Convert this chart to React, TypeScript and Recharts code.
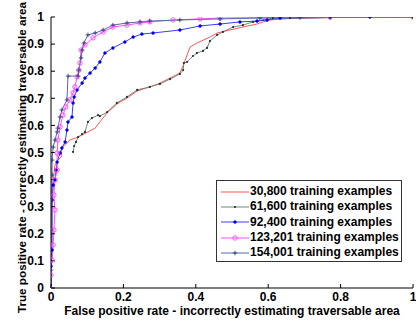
import React from 'react';
import { LineChart, Line, XAxis, YAxis, Legend, Label } from 'recharts';

// ROC curve points: [false positive rate, true positive rate]
const series30800: [number, number][] = [
  [0, 0], [0.001, 0.14], [0.003, 0.288], [0.006, 0.399], [0.011, 0.454], [0.019, 0.472],
  [0.028, 0.483], [0.03, 0.517], [0.044, 0.535], [0.052, 0.546], [0.075, 0.557], [0.102, 0.576],
  [0.122, 0.59], [0.135, 0.613], [0.155, 0.646], [0.182, 0.679], [0.21, 0.701], [0.238, 0.727],
  [0.273, 0.742], [0.301, 0.756], [0.329, 0.775], [0.356, 0.793], [0.367, 0.827], [0.373, 0.849],
  [0.384, 0.889], [0.403, 0.904], [0.439, 0.926], [0.459, 0.941], [0.494, 0.952], [0.53, 0.963],
  [0.569, 0.974], [0.586, 0.982], [0.605, 0.989], [0.652, 0.994], [0.771, 0.998], [1, 1],
];

const series61600: [number, number][] = [
  [0.061, 0.502], [0.064, 0.524], [0.069, 0.539], [0.075, 0.557], [0.086, 0.568], [0.094, 0.576],
  [0.102, 0.613], [0.113, 0.627], [0.13, 0.638], [0.135, 0.634], [0.155, 0.649], [0.182, 0.683],
  [0.21, 0.705], [0.238, 0.731], [0.273, 0.742], [0.301, 0.753], [0.329, 0.771], [0.356, 0.79],
  [0.365, 0.804], [0.367, 0.83], [0.376, 0.834], [0.392, 0.856], [0.403, 0.867], [0.42, 0.875],
  [0.431, 0.886], [0.439, 0.911], [0.459, 0.934], [0.475, 0.945], [0.503, 0.963], [0.53, 0.97],
  [0.558, 0.982], [0.586, 0.989], [0.613, 0.996], [0.66, 0.996], [0.771, 0.998], [1, 1],
];

const series92400: [number, number][] = [
  [0, 0], [0, 0.08], [0.003, 0.14], [0.003, 0.325], [0.006, 0.38], [0.011, 0.399],
  [0.014, 0.435], [0.017, 0.465], [0.025, 0.498], [0.03, 0.517], [0.039, 0.539], [0.044, 0.583],
  [0.047, 0.613], [0.058, 0.631], [0.061, 0.683], [0.064, 0.705], [0.072, 0.731], [0.086, 0.756],
  [0.094, 0.775], [0.108, 0.793], [0.122, 0.812], [0.135, 0.834], [0.149, 0.867], [0.171, 0.886],
  [0.204, 0.908], [0.227, 0.926], [0.251, 0.937], [0.282, 0.941], [0.356, 0.952], [0.412, 0.967],
  [0.467, 0.974], [0.522, 0.982], [0.569, 0.985], [0.597, 0.989], [0.633, 0.996], [0.771, 0.998],
  [0.881, 1], [1, 1],
];

const series123201: [number, number][] = [
  [0, 0.048], [0.003, 0.103], [0.006, 0.159], [0.008, 0.214], [0.011, 0.288], [0.008, 0.343],
  [0.011, 0.399], [0.017, 0.435], [0.017, 0.498], [0.019, 0.546], [0.025, 0.594], [0.033, 0.638],
  [0.041, 0.668], [0.052, 0.694], [0.061, 0.72], [0.066, 0.742], [0.072, 0.779], [0.077, 0.804],
  [0.08, 0.83], [0.083, 0.878], [0.094, 0.897], [0.116, 0.923], [0.144, 0.945], [0.171, 0.963],
  [0.21, 0.97], [0.246, 0.978], [0.273, 0.982], [0.337, 0.989], [0.412, 0.993], [0.467, 0.996],
  [0.586, 0.998], [0.771, 1], [1, 1],
];

const series154001: [number, number][] = [
  [0, 0], [0, 0.066], [0, 0.214], [0.001, 0.325], [0.003, 0.417], [0.003, 0.472],
  [0.006, 0.52], [0.011, 0.546], [0.017, 0.576], [0.019, 0.59], [0.025, 0.631], [0.03, 0.657],
  [0.044, 0.694], [0.047, 0.782], [0.075, 0.782], [0.077, 0.804], [0.083, 0.849], [0.086, 0.878],
  [0.091, 0.904], [0.102, 0.934], [0.122, 0.941], [0.144, 0.952], [0.171, 0.97], [0.21, 0.978],
  [0.246, 0.982], [0.273, 0.985], [0.356, 0.989], [0.467, 0.993], [0.577, 0.996], [0.688, 0.998],
  [0.771, 1], [1, 1],
];

const seriesNames = [
  '30,800 training examples',
  '61,600 training examples',
  '92,400 training examples',
  '123,201 training examples',
  '154,001 training examples',
];

const xTicks = [0, 0.2, 0.4, 0.6, 0.8, 1];
const yTicks = [0, 0.1, 0.2, 0.3, 0.4, 0.5, 0.6, 0.7, 0.8, 0.9, 1];

const xLabel = 'False positive rate - incorrectly estimating traversable area';
const yLabel = 'True positive rate - correctly estimating traversable area';

const FONT = '"Liberation Sans", Arial, sans-serif';
const FS = 12;

type MarkerKind = 'none' | 'dot' | 'bigdot' | 'circle' | 'plus';

const styles: { color: string; marker: MarkerKind; markerColor: string }[] = [
  { color: '#ff5555', marker: 'none', markerColor: '#ff5555' },
  { color: '#6f8a7a', marker: 'dot', markerColor: '#1f3326' },
  { color: '#3c3cff', marker: 'bigdot', markerColor: '#0000ee' },
  { color: '#ff4cff', marker: 'circle', markerColor: '#ff44ff' },
  { color: '#5868a8', marker: 'plus', markerColor: '#2d3a78' },
];

const allSeries = [series30800, series61600, series92400, series123201, series154001];

const toData = (s: [number, number][]) => s.map(([x, y]) => ({ x, y }));

function renderMarker(kind: MarkerKind, color: string, cx: number, cy: number, key?: string | number) {
  switch (kind) {
    case 'dot':
      return <circle key={key} cx={cx} cy={cy} r={1.1} fill={color} stroke="none" />;
    case 'bigdot':
      return (
        <g key={key}>
          <circle cx={cx} cy={cy} r={1.5} fill={color} stroke="none" />
          <path d={`M${cx - 2},${cy}H${cx + 2}M${cx},${cy - 2}V${cy + 2}`} stroke={color} strokeWidth={0.7} />
        </g>
      );
    case 'circle':
      return <circle key={key} cx={cx} cy={cy} r={2.2} fill="none" stroke={color} strokeWidth={0.9} />;
    case 'plus':
      return (
        <path
          key={key}
          d={`M${cx - 2.3},${cy}H${cx + 2.3}M${cx},${cy - 2.3}V${cy + 2.3}`}
          stroke={color}
          strokeWidth={0.9}
          fill="none"
        />
      );
    default:
      return <g key={key} />;
  }
}

const makeDot = (kind: MarkerKind, color: string) => (props: any) => {
  const { cx, cy, index } = props;
  if (cx == null || cy == null) return <g key={`k${index}`} />;
  return renderMarker(kind, color, cx, cy, `k${index}`);
};

const LegendBox = () => (
  <div
    style={{
      width: 184,
      height: 77,
      border: '1px solid #333',
      background: '#fff',
      boxSizing: 'content-box',
      paddingTop: 3,
    }}
  >
    {seriesNames.map((name, i) => (
      <div key={name} style={{ display: 'flex', alignItems: 'center', height: 15.3 }}>
        <svg width={31} height={10} style={{ marginLeft: 2, flex: 'none' }}>
          <line x1={2} y1={5} x2={30} y2={5} stroke={styles[i].color} strokeWidth={1} />
          {renderMarker(styles[i].marker, styles[i].markerColor, 16, 5)}
        </svg>
        <span style={{ fontFamily: FONT, fontWeight: 'bold', fontSize: FS, color: '#000', whiteSpace: 'nowrap', lineHeight: '15px' }}>
          {name}
        </span>
      </div>
    ))}
  </div>
);

const fmt = (v: number) => (v === 0 ? '0' : v === 1 ? '1' : String(v));

export default function App() {
  return (
    <div style={{ position: 'absolute', left: 0, top: 0, width: 416, height: 321, background: '#fff' }}>
      <LineChart width={416} height={321} margin={{ top: 17, right: 3, bottom: 0, left: 0 }}>
        <XAxis
          type="number"
          dataKey="x"
          domain={[0, 1]}
          ticks={xTicks}
          tickFormatter={fmt}
          height={33}
          tickSize={-4}
          tickMargin={8}
          axisLine={{ stroke: '#000', strokeWidth: 1 }}
          tickLine={{ stroke: '#000' }}
          tick={{ fill: '#000', fontFamily: FONT, fontWeight: 'bold', fontSize: FS }}
          allowDataOverflow
        >
          <Label
            content={(p: any) => {
              const vb = p.viewBox || { x: 51, y: 288, width: 362, height: 33 };
              return (
                <text
                  x={vb.x + vb.width / 2}
                  y={vb.y + 27}
                  textAnchor="middle"
                  fontFamily={FONT}
                  fontWeight="bold"
                  fontSize={FS}
                  fill="#000"
                >
                  {xLabel}
                </text>
              );
            }}
          />
        </XAxis>
        <YAxis
          type="number"
          dataKey="y"
          domain={[0, 1]}
          ticks={yTicks}
          tickFormatter={fmt}
          width={51}
          tickSize={-4}
          tickMargin={11}
          axisLine={{ stroke: '#000', strokeWidth: 1 }}
          tickLine={{ stroke: '#000' }}
          tick={{ fill: '#000', fontFamily: FONT, fontWeight: 'bold', fontSize: FS }}
          allowDataOverflow
        >
          <Label
            content={(p: any) => {
              const vb = p.viewBox || { x: 0, y: 17, width: 51, height: 271 };
              const cx = vb.x + 21;
              const cy = vb.y + vb.height / 2 + 5;
              return (
                <text
                  x={cx}
                  y={cy}
                  transform={`rotate(-90, ${cx}, ${cy})`}
                  textAnchor="middle"
                  dominantBaseline="central"
                  fontFamily={FONT}
                  fontWeight="bold"
                  fontSize={11.7}
                  fill="#000"
                >
                  {yLabel}
                </text>
              );
            }}
          />
        </YAxis>
        {allSeries.map((s, i) => (
          <Line
            key={seriesNames[i]}
            name={seriesNames[i]}
            data={toData(s)}
            dataKey="y"
            type="linear"
            stroke={styles[i].color}
            strokeWidth={1}
            dot={styles[i].marker === 'none' ? false : makeDot(styles[i].marker, styles[i].markerColor)}
            activeDot={false}
            isAnimationActive={false}
          />
        ))}
        <Legend
          content={() => <LegendBox />}
          layout="horizontal"
          verticalAlign="middle"
          align="center"
          wrapperStyle={{ position: 'absolute', left: 216, top: 180, width: 186, height: 81 }}
        />
      </LineChart>
    </div>
  );
}
